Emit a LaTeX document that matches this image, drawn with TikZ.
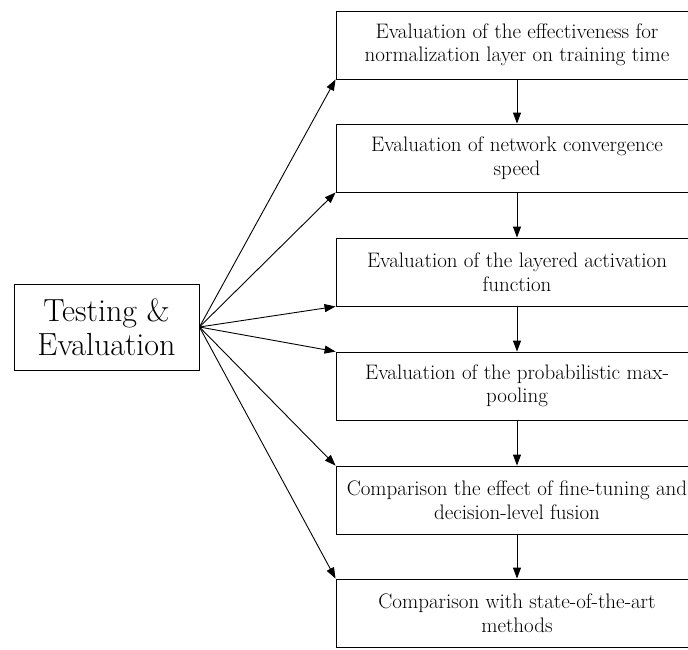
\documentclass[tikz,border=0pt]{standalone}
\usetikzlibrary{arrows.meta}
\begin{document}
\begin{tikzpicture}[x=1pt,y=-1pt,
  box/.style={draw=black,line width=0.9pt,fill=white,minimum width=362pt,minimum height=68pt,
    inner sep=0pt,align=center,font=\fontsize{21}{23.5}\selectfont},
  mainbox/.style={draw=black,line width=0.9pt,minimum width=185pt,minimum height=86pt,
    inner sep=0pt,align=center,font=\fontsize{32}{34}\selectfont},
  arr/.style={line width=0.9pt,-{Triangle[length=11pt,width=8pt]}},
  varr/.style={line width=0.9pt,-{Triangle[length=11pt,width=8pt]}}]
\useasboundingbox (0,0) rectangle (688,649);
\node[mainbox] (m) at (106.5,327) {Testing \&\\Evaluation};
\node[box] (b1) at (517,45) {Evaluation of the effectiveness for\\normalization layer on training time};
\node[box] (b2) at (517,158) {Evaluation of network convergence\\speed};
\node[box] (b3) at (517,272) {Evaluation of the layered activation\\function};
\node[box] (b4) at (517,386) {Evaluation of the probabilistic max-\\pooling};
\node[box] (b5) at (517,500) {Comparison the effect of fine-tuning and\\decision-level fusion};
\node[box] (b6) at (517,613) {Comparison with state-of-the-art\\methods};
\draw[arr] (m.east) -- (b1.south west);
\draw[arr] (m.east) -- (b2.south west);
\draw[arr] (m.east) -- (b3.south west);
\draw[arr] (m.east) -- (b4.north west);
\draw[arr] (m.east) -- (b5.north west);
\draw[arr] (m.east) -- (b6.north west);
\draw[varr] (b1) -- (b2);
\draw[varr] (b2) -- (b3);
\draw[varr] (b3) -- (b4);
\draw[varr] (b4) -- (b5);
\draw[varr] (b5) -- (b6);
\end{tikzpicture}
\end{document}
